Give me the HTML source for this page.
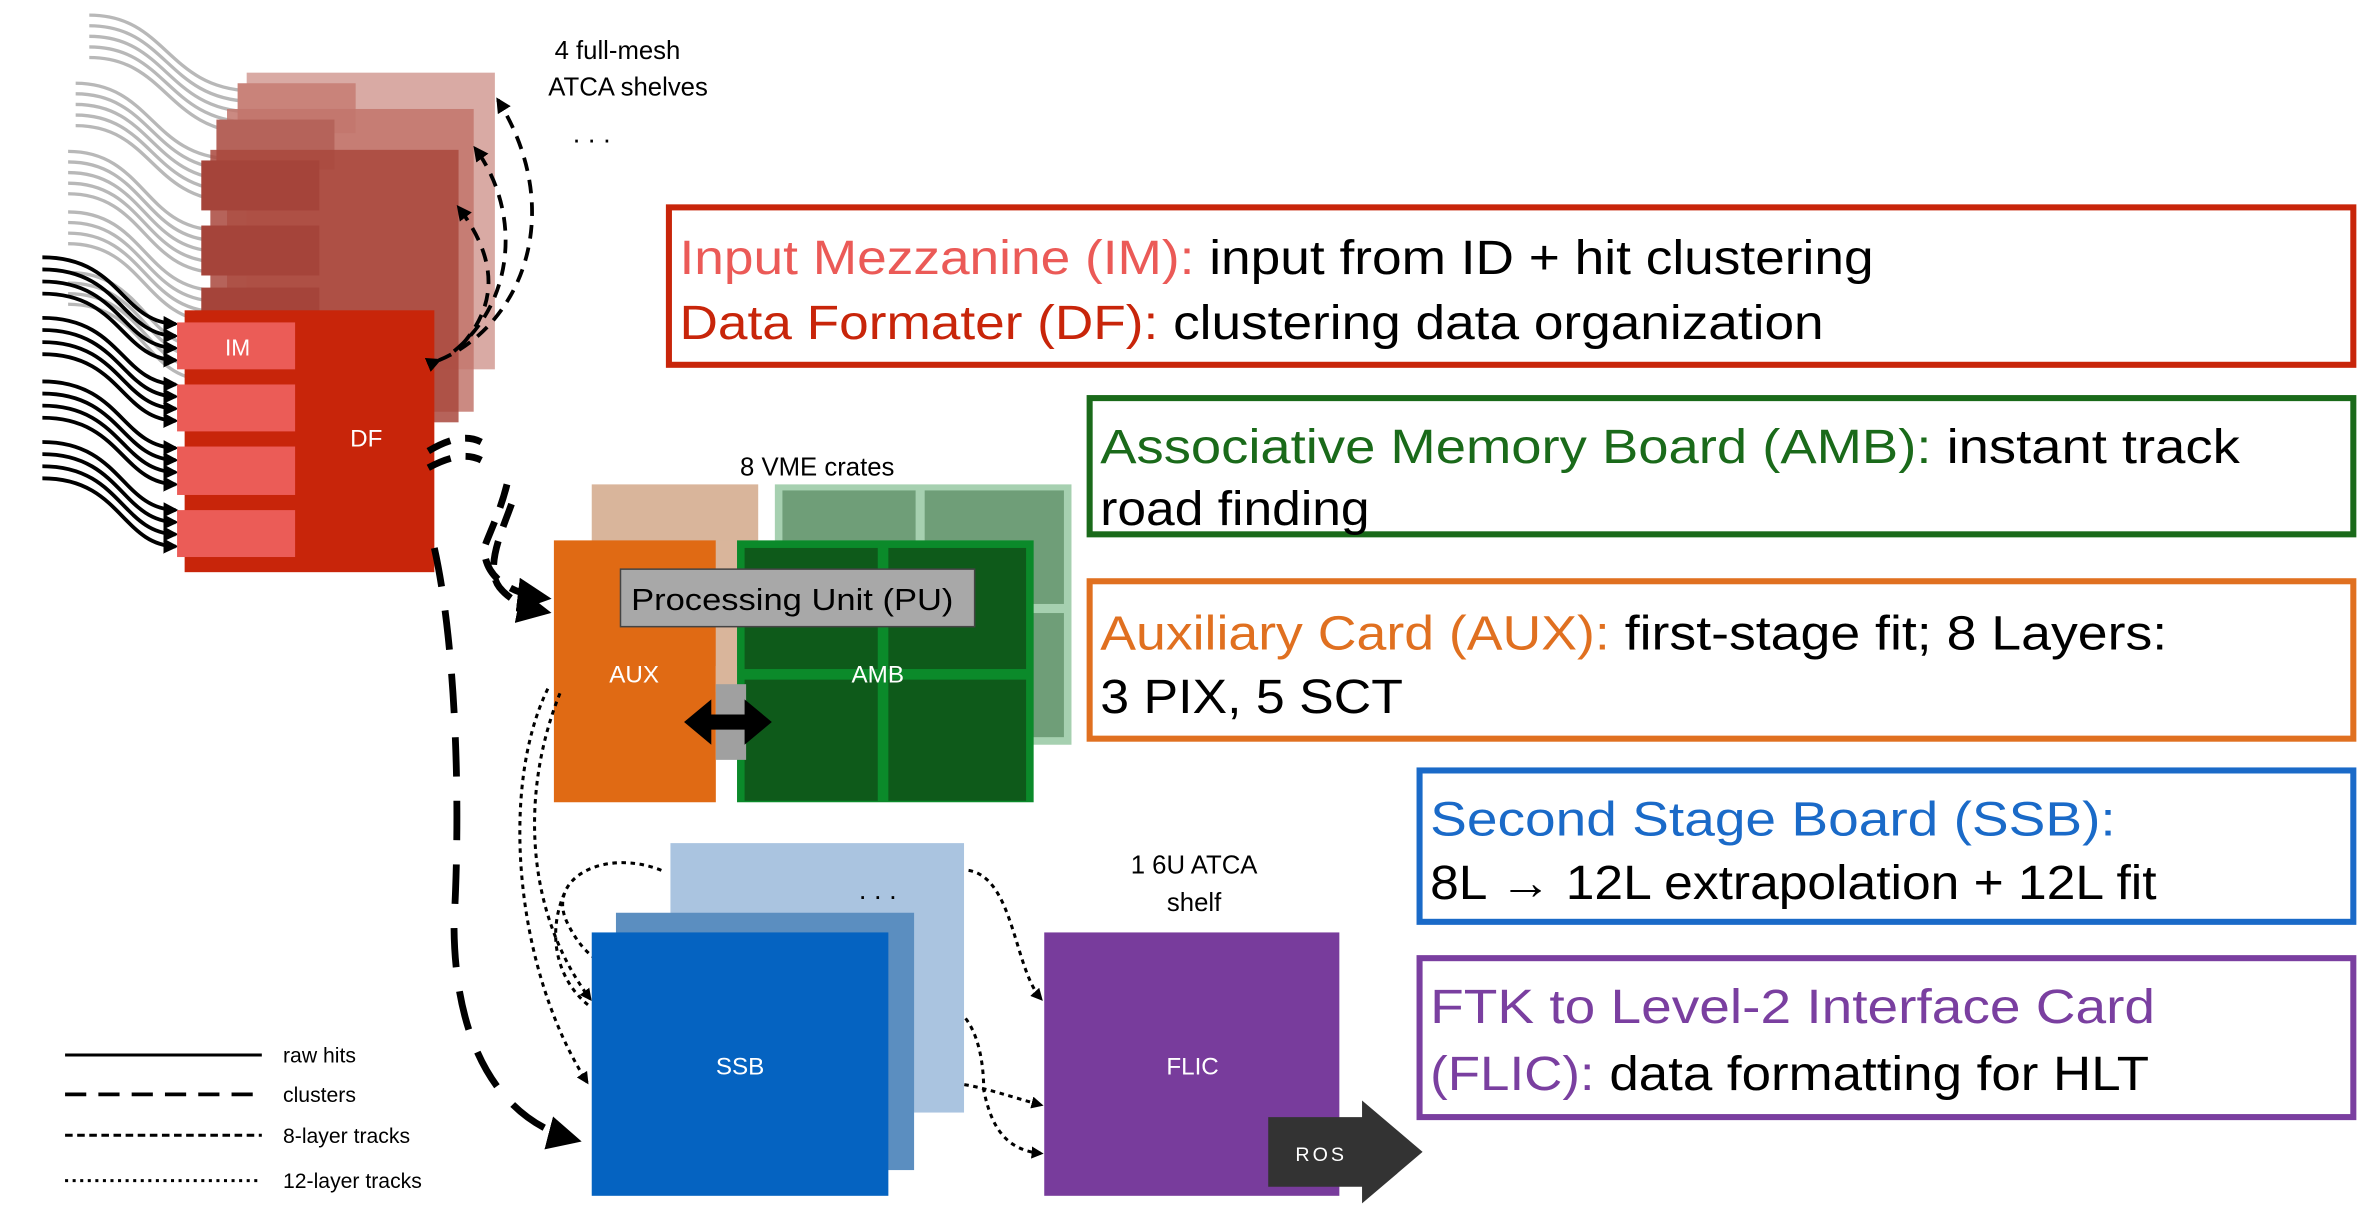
<!DOCTYPE html>
<html><head><style>
html,body{margin:0;padding:0;background:#fff;overflow:hidden}
svg{display:block}
text{font-family:"Liberation Sans",Arial,sans-serif}
</style></head><body>
<svg width="2373" height="1217" viewBox="0 0 1568 804" preserveAspectRatio="none" xmlns="http://www.w3.org/2000/svg">
<defs>
<marker id="ah" viewBox="0 0 10 10" refX="8" refY="5" markerWidth="4" markerHeight="4" orient="auto"><path d="M0,0 L10,5 L0,10 z" fill="#000"/></marker>
<marker id="ahs" viewBox="0 0 10 10" refX="8" refY="5" markerWidth="5" markerHeight="5" orient="auto"><path d="M0,0 L10,5 L0,10 z" fill="#000"/></marker>
</defs>
<!-- grey wavy lines -->
<g fill="none" stroke="#b8b8b8" stroke-width="2.2">
<path d="M59,10 C110,10 110,58 165,60"/><path d="M59,17 C110,17 110,65 165,67"/><path d="M59,24 C110,24 110,72 165,74"/><path d="M59,31 C110,31 110,79 165,81"/><path d="M59,38 C110,38 110,86 165,88"/>
<path d="M50,55 C100,55 100,103 152,105"/><path d="M50,62 C100,62 100,110 152,112"/><path d="M50,69 C100,69 100,117 152,119"/><path d="M50,76 C100,76 100,124 152,126"/><path d="M50,83 C100,83 100,131 152,133"/>
<path d="M45,100 C95,100 95,150 142,152"/><path d="M45,107 C95,107 95,157 142,159"/><path d="M45,114 C95,114 95,164 142,166"/><path d="M45,121 C95,121 95,171 142,173"/><path d="M45,128 C95,128 95,178 142,180"/>
<path d="M45,140 C95,140 95,190 142,192"/><path d="M45,147 C95,147 95,197 142,199"/><path d="M45,154 C95,154 95,204 142,206"/><path d="M45,161 C95,161 95,211 142,213"/>
<path d="M45,180 C95,180 95,228 135,230"/><path d="M45,187 C95,187 95,235 135,237"/><path d="M45,194 C95,194 95,242 135,244"/><path d="M45,201 C95,201 95,249 135,251"/>
</g>
<!-- shelves -->
<rect x="163" y="48" width="164" height="196" fill="#d9aaa4"/>
<rect x="157" y="55" width="78" height="33" fill="#c9837a"/>
<rect x="150" y="72" width="163" height="200" fill="#c2766c" opacity="0.85"/>
<rect x="143" y="79" width="78" height="33" fill="#b5635a"/>
<rect x="139" y="99" width="164" height="180" fill="#a9483d" opacity="0.85"/>
<rect x="133" y="106" width="78" height="33" fill="#a5443a"/>
<rect x="133" y="149" width="78" height="33" fill="#a5443a"/>
<rect x="133" y="190" width="78" height="33" fill="#a5443a"/>
<!-- black raw hit lines -->
<g fill="none" stroke="#000" stroke-width="2.5" marker-end="url(#ah)">
<path d="M28,170 C80,170 80,213 116,214"/><path d="M28,178 C80,178 80,221 116,222"/><path d="M28,186 C80,186 80,229 116,230"/><path d="M28,194 C80,194 80,237 116,238"/>
<path d="M28,210 C80,210 80,253 116,254"/><path d="M28,218 C80,218 80,261 116,262"/><path d="M28,226 C80,226 80,269 116,270"/><path d="M28,234 C80,234 80,277 116,278"/>
<path d="M28,252 C80,252 80,295 116,296"/><path d="M28,260 C80,260 80,303 116,304"/><path d="M28,268 C80,268 80,311 116,312"/><path d="M28,276 C80,276 80,319 116,320"/>
<path d="M28,292 C80,292 80,336 116,337"/><path d="M28,300 C80,300 80,344 116,345"/><path d="M28,308 C80,308 80,352 116,353"/><path d="M28,316 C80,316 80,360 116,361"/>
</g>
<!-- DF -->
<rect x="122" y="205" width="165" height="173" fill="#c8250a"/>
<rect x="117" y="213" width="78" height="31" fill="#eb5c57"/>
<rect x="117" y="254" width="78" height="31" fill="#eb5c57"/>
<rect x="117" y="295" width="78" height="32" fill="#eb5c57"/>
<rect x="117" y="337" width="78" height="31" fill="#eb5c57"/>
<text x="157" y="235" font-size="15" fill="#fff" text-anchor="middle">IM</text>
<text x="242" y="295" font-size="16" fill="#fff" text-anchor="middle">DF</text>
<!-- dashed DF <-> shelves -->
<g fill="none" stroke="#000" stroke-width="2.5" stroke-dasharray="9,6">
<path d="M290,238 C345,215 375,140 329,66" marker-end="url(#ah)" marker-start="url(#ah)"/>
<path d="M300,232 C340,200 345,140 314,98" marker-end="url(#ah)"/>
<path d="M305,228 C330,200 328,170 303,137" marker-end="url(#ah)"/>
</g>
<text x="408" y="39" font-size="17" text-anchor="middle">4 full-mesh</text>
<text x="415" y="63" font-size="17" text-anchor="middle">ATCA shelves</text>
<text x="391" y="94" font-size="18" text-anchor="middle">. . .</text>
<!-- VME -->
<text x="540" y="314" font-size="17" text-anchor="middle">8 VME crates</text>
<rect x="391" y="320" width="110" height="120" fill="#d9b59b"/>
<rect x="512" y="320" width="196" height="172" fill="#a6d0b0"/>
<rect x="517" y="324" width="88" height="75" fill="#6f9e78"/><rect x="611" y="324" width="92" height="75" fill="#6f9e78"/>
<rect x="517" y="405" width="88" height="82" fill="#6f9e78"/><rect x="611" y="405" width="92" height="82" fill="#6f9e78"/>
<rect x="366" y="357" width="107" height="173" fill="#e06a14"/>
<rect x="473" y="357" width="14" height="100" fill="#d9b59b"/>
<rect x="487" y="357" width="196" height="173" fill="#0b8a2a"/>
<rect x="492" y="362" width="88" height="80" fill="#0e5a1a"/><rect x="587" y="362" width="91" height="80" fill="#0e5a1a"/>
<rect x="492" y="449" width="88" height="80" fill="#0e5a1a"/><rect x="587" y="449" width="91" height="80" fill="#0e5a1a"/>
<rect x="410" y="376" width="234" height="38" fill="#a8a8a8" stroke="#444" stroke-width="1"/>
<text x="417" y="403" font-size="20" textLength="213" lengthAdjust="spacingAndGlyphs">Processing Unit (PU)</text>
<text x="419" y="451" font-size="16" fill="#fff" text-anchor="middle">AUX</text>
<text x="580" y="451" font-size="16" fill="#fff" text-anchor="middle">AMB</text>
<rect x="473" y="452" width="20" height="50" fill="#a0a0a0"/>
<path d="M452,477 L470,462 L470,472 L492,472 L492,462 L510,477 L492,492 L492,482 L470,482 L470,492 z" fill="#000"/>
<!-- DF to AUX dashed -->
<g fill="none" stroke="#000" stroke-width="4.5" stroke-dasharray="16,10">
<path d="M283,298 C300,288 310,288 318,292"/>
<path d="M283,309 C300,300 310,300 318,304"/>
<path d="M335,320 C330,340 322,355 320,362 C320,380 335,392 360,395" marker-end="url(#ahs)"/>
<path d="M338,333 C332,350 320,375 330,388 C338,398 350,402 360,404" marker-end="url(#ahs)"/>
<path d="M287,362 C300,420 305,520 300,610 C300,690 330,740 380,753" marker-end="url(#ahs)" stroke-dasharray="26,16"/>
</g>
<!-- dotted -->
<g fill="none" stroke="#000" stroke-width="2" stroke-dasharray="3,3">
<path d="M362,455 C330,520 340,640 388,715" marker-end="url(#ah)"/>
<path d="M370,458 C345,520 345,600 390,660" marker-end="url(#ah)"/>
<path d="M437,575 C400,560 360,580 375,610 C385,630 395,635 405,640" marker-end="url(#ah)"/>
<path d="M373,590 C360,620 370,650 390,665"/>
<path d="M640,575 C670,580 670,640 688,660" marker-end="url(#ah)"/>
<path d="M600,665 C640,650 650,690 650,720 C655,745 665,760 688,762" marker-end="url(#ah)"/>
<path d="M585,725 C620,705 650,720 688,730" marker-end="url(#ah)"/>
</g>
<!-- SSB -->
<rect x="443" y="557" width="194" height="178" fill="#aac4e0"/>
<rect x="407" y="603" width="197" height="170" fill="#5b8ec0"/>
<rect x="391" y="616" width="196" height="174" fill="#0563c1"/>
<text x="580" y="594" font-size="18" text-anchor="middle">. . .</text>
<text x="489" y="710" font-size="16" fill="#fff" text-anchor="middle">SSB</text>
<!-- FLIC -->
<text x="789" y="577" font-size="17" text-anchor="middle">1 6U ATCA</text>
<text x="789" y="602" font-size="17" text-anchor="middle">shelf</text>
<rect x="690" y="616" width="195" height="174" fill="#783c9c"/>
<text x="788" y="710" font-size="16" fill="#fff" text-anchor="middle">FLIC</text>
<path d="M838,738 L900,738 L900,727 L940,761 L900,795 L900,784 L838,784 z" fill="#333"/>
<text x="873" y="767" font-size="13" fill="#fff" text-anchor="middle" letter-spacing="2">ROS</text>
<!-- legend -->
<line x1="43" y1="697" x2="173" y2="697" stroke="#000" stroke-width="2"/>
<line x1="43" y1="723" x2="173" y2="723" stroke="#000" stroke-width="2.5" stroke-dasharray="14,8"/>
<line x1="43" y1="750" x2="173" y2="750" stroke="#000" stroke-width="2" stroke-dasharray="5,3"/>
<line x1="43" y1="780" x2="173" y2="780" stroke="#000" stroke-width="2" stroke-dasharray="2,3"/>
<g font-size="14"><text x="187" y="702">raw hits</text><text x="187" y="728">clusters</text><text x="187" y="755">8-layer tracks</text><text x="187" y="785">12-layer tracks</text></g>
<!-- right boxes -->
<rect x="442" y="137" width="1113" height="104" fill="none" stroke="#c8250a" stroke-width="4"/>
<text x="449" y="181" font-size="32" textLength="789" lengthAdjust="spacingAndGlyphs"><tspan fill="#eb5a57">Input Mezzanine (IM):</tspan> input from ID + hit clustering</text>
<text x="449" y="224" font-size="32" textLength="756" lengthAdjust="spacingAndGlyphs"><tspan fill="#c8250a">Data Formater (DF):</tspan> clustering data organization</text>
<rect x="720" y="263" width="835" height="90" fill="none" stroke="#1a6a1a" stroke-width="4"/>
<text x="727" y="306" font-size="32" textLength="753" lengthAdjust="spacingAndGlyphs"><tspan fill="#1a6a1a">Associative Memory Board (AMB):</tspan> instant track</text>
<text x="727" y="347" font-size="32" textLength="178" lengthAdjust="spacingAndGlyphs">road finding</text>
<rect x="720" y="384" width="835" height="104" fill="none" stroke="#e07020" stroke-width="4"/>
<text x="727" y="429" font-size="32" textLength="705" lengthAdjust="spacingAndGlyphs"><tspan fill="#e07020">Auxiliary Card (AUX):</tspan> first-stage fit; 8 Layers:</text>
<text x="727" y="471" font-size="32" textLength="200" lengthAdjust="spacingAndGlyphs">3 PIX, 5 SCT</text>
<rect x="938" y="509" width="617" height="100" fill="none" stroke="#1a6ac8" stroke-width="4"/>
<text x="945" y="552" font-size="32" fill="#1a6ac8" textLength="453" lengthAdjust="spacingAndGlyphs">Second Stage Board (SSB):</text>
<text x="945" y="594" font-size="32" textLength="480" lengthAdjust="spacingAndGlyphs">8L → 12L extrapolation + 12L fit</text>
<rect x="938" y="633" width="617" height="105" fill="none" stroke="#7a3fa0" stroke-width="4"/>
<text x="945" y="676" font-size="32" fill="#7a3fa0" textLength="479" lengthAdjust="spacingAndGlyphs">FTK to Level-2 Interface Card</text>
<text x="945" y="720" font-size="32" textLength="475" lengthAdjust="spacingAndGlyphs"><tspan fill="#7a3fa0">(FLIC):</tspan> data formatting for HLT</text>
</svg>
</body></html>
